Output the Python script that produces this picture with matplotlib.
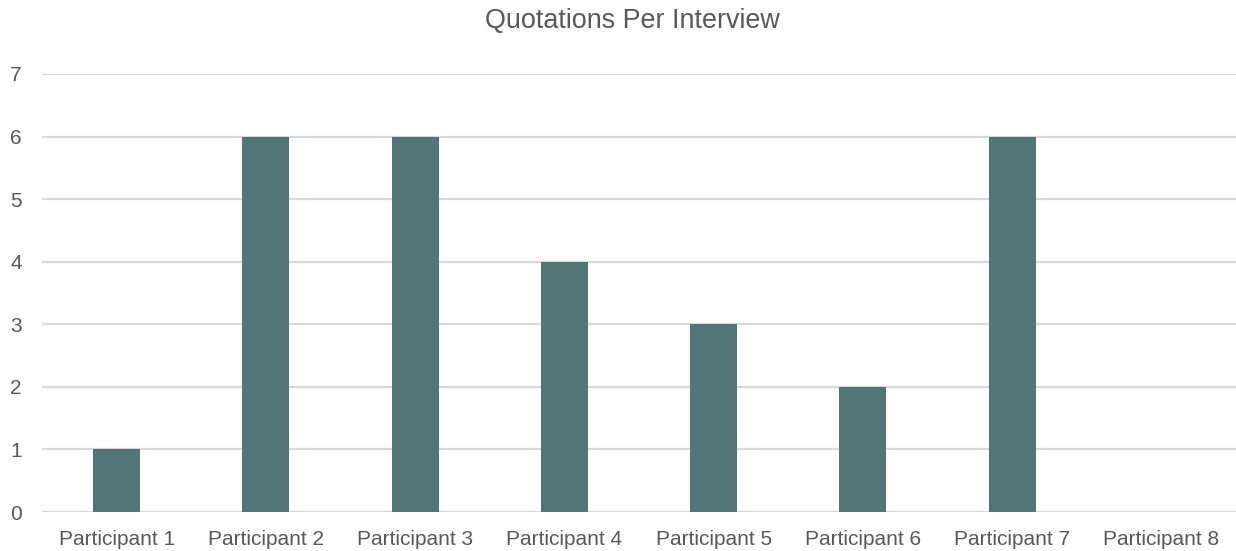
import matplotlib
matplotlib.use("Agg")
import matplotlib.pyplot as plt

categories = ["Participant 1", "Participant 2", "Participant 3", "Participant 4",
              "Participant 5", "Participant 6", "Participant 7", "Participant 8"]
values = [1, 6, 6, 4, 3, 2, 6, 0]
yticks = [0, 1, 2, 3, 4, 5, 6, 7]

plt.rcParams['font.family'] = ['Liberation Sans', 'DejaVu Sans']
txt = '#595959'

fig = plt.figure(figsize=(12.36, 5.51), dpi=100)
ax = fig.add_axes([42/1236, 39/551, (1236-42)/1236, (512-74)/551])
x = list(range(len(categories)))
ax.bar(x, values, width=0.315, color='#527578', zorder=3)
ax.set_xlim(-0.5, len(categories) - 0.5)
ax.set_ylim(0, 7)
ax.set_yticks(yticks)
ax.set_xticks(x)
ax.set_xticklabels(categories)
ax.grid(axis='y', color='#d9d9d9', linewidth=1.6, zorder=0)
for s in ax.spines.values():
    s.set_visible(False)
ax.tick_params(axis='both', length=0, labelsize=15, labelcolor=txt)
ax.tick_params(axis='y', pad=23)
ax.tick_params(axis='x', pad=13)
for lbl in ax.get_yticklabels():
    lbl.set_horizontalalignment('left')
fig.text(632/1236, 1 - 21/551, "Quotations Per Interview", ha='center', va='center',
         fontsize=19.4, color=txt)
fig.savefig("out.png", dpi=100)
